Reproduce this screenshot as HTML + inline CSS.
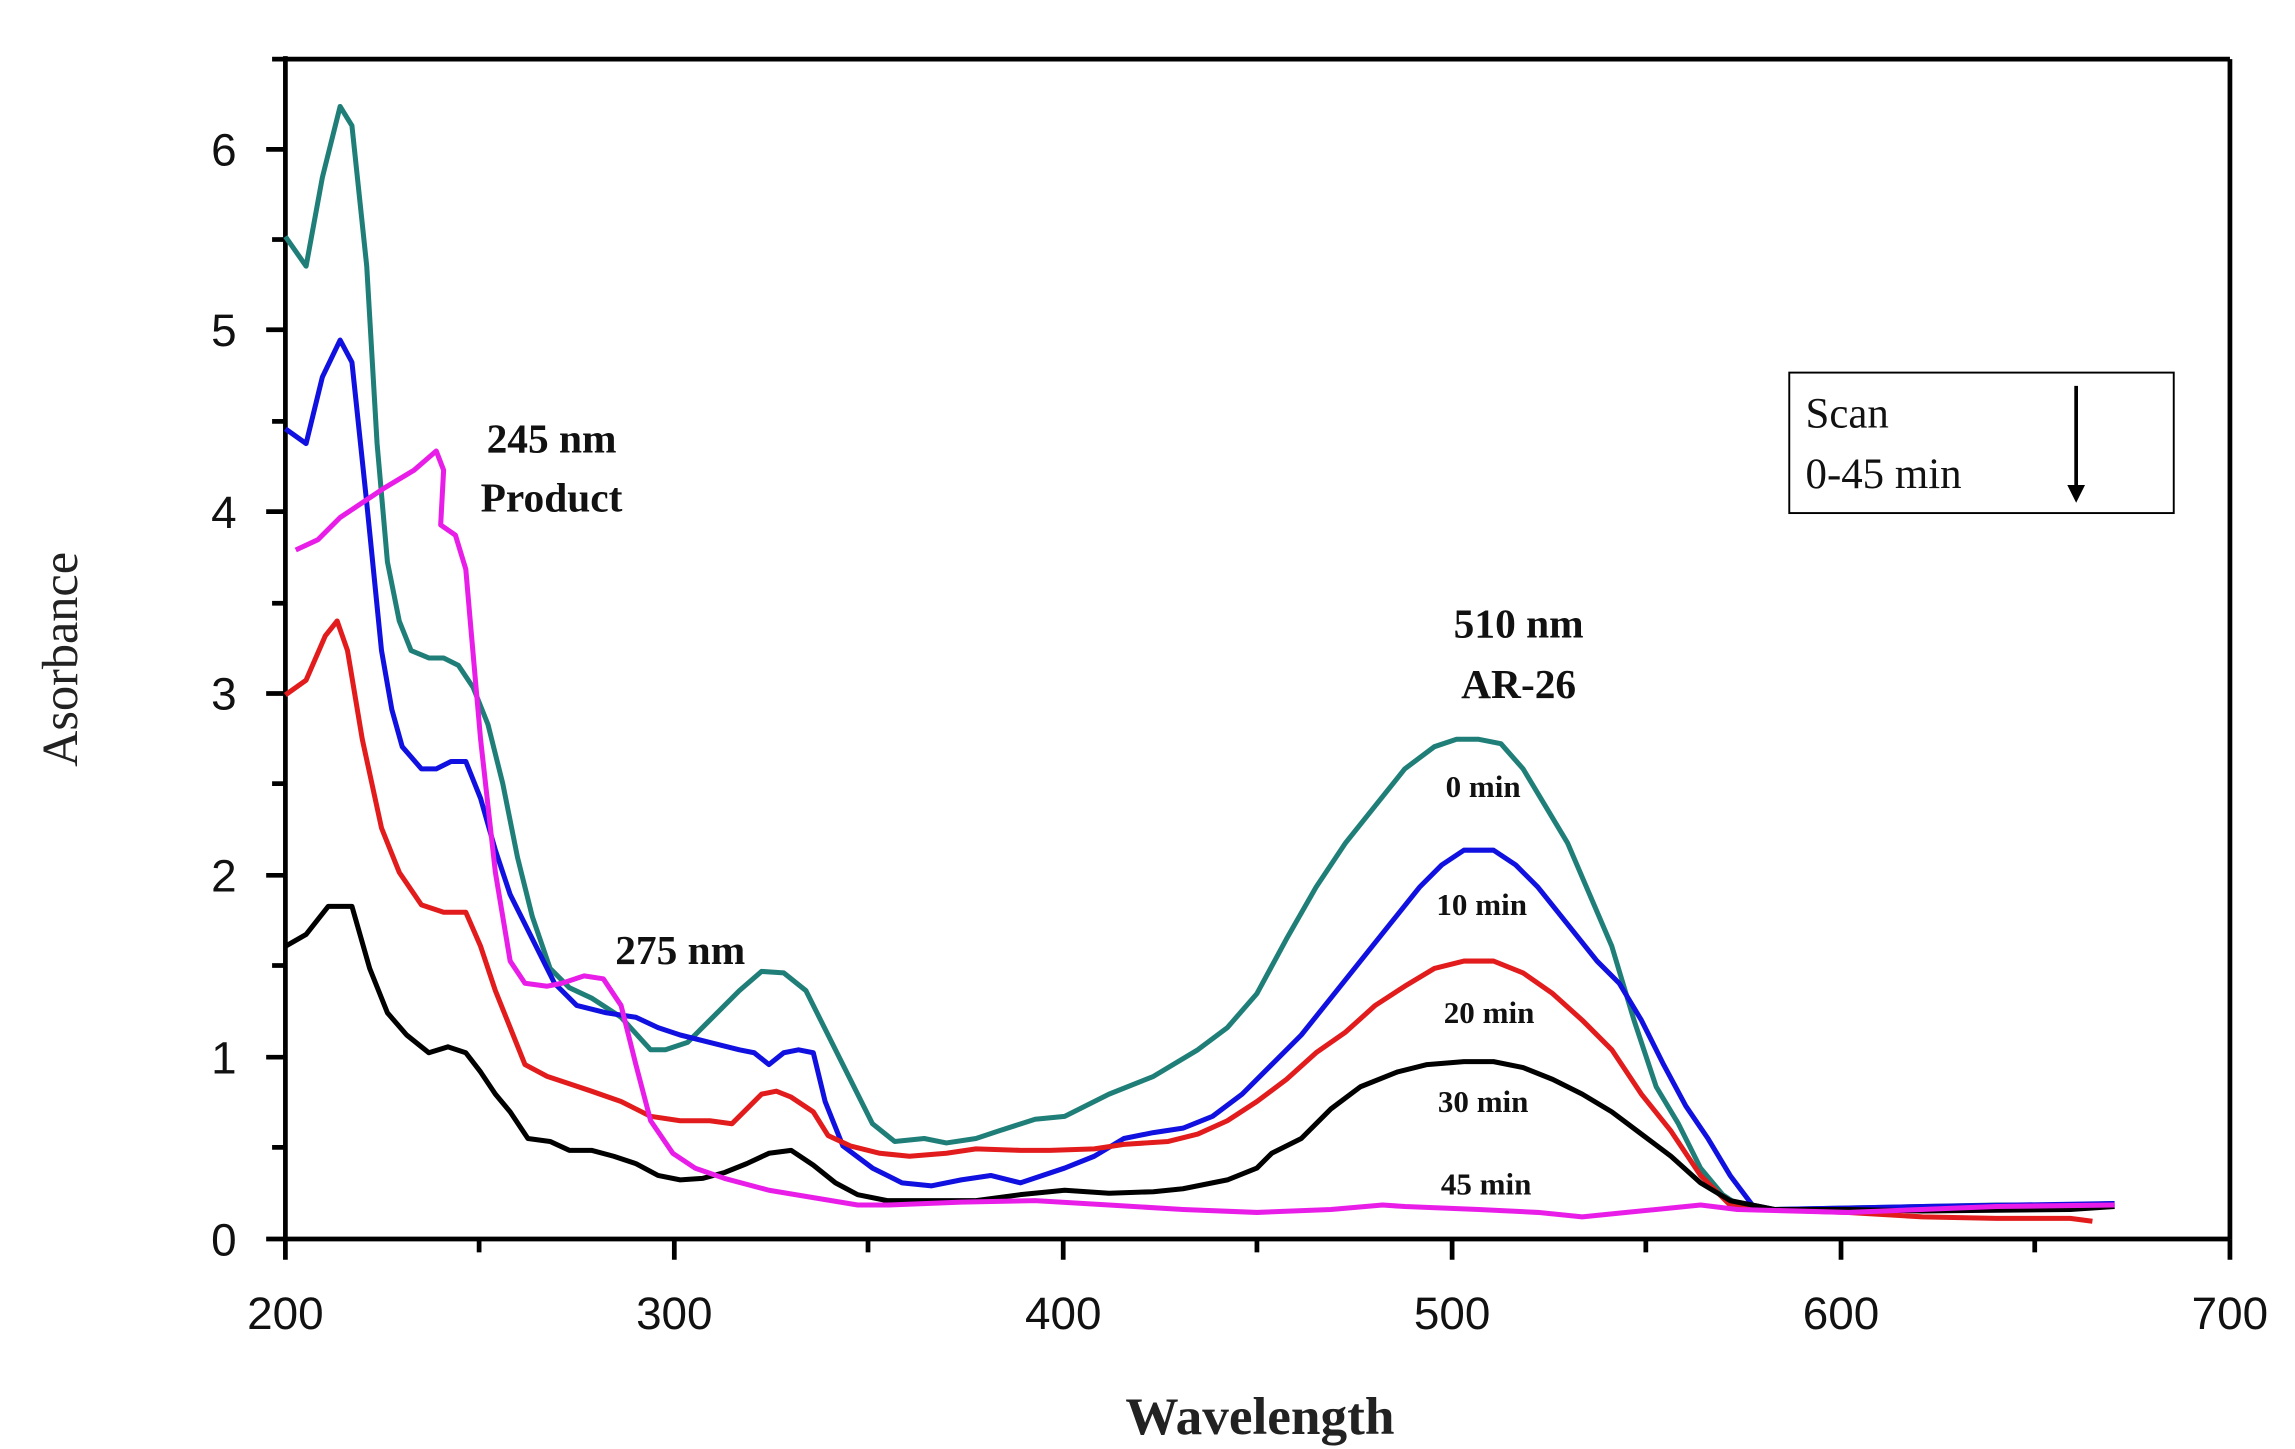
<!DOCTYPE html>
<html><head><meta charset="utf-8"><style>html,body{margin:0;padding:0;background:#fff}svg{display:block}</style></head>
<body>
<svg width="2295" height="1449" viewBox="0 0 1552 980" preserveAspectRatio="none" xmlns="http://www.w3.org/2000/svg">
<rect width="1552" height="980" fill="#fff"/>
<g stroke="#000" stroke-width="3.2" fill="none">
<line x1="193" y1="40" x2="1508" y2="40"/>
<line x1="1508" y1="40" x2="1508" y2="838"/>
<line x1="193" y1="38" x2="193" y2="852"/>
<line x1="180" y1="838" x2="1508" y2="838"/>
<!-- y ticks -->
<line x1="180" y1="101" x2="193" y2="101"/><line x1="180" y1="223" x2="193" y2="223"/><line x1="180" y1="346" x2="193" y2="346"/><line x1="180" y1="469" x2="193" y2="469"/><line x1="180" y1="592" x2="193" y2="592"/><line x1="180" y1="715" x2="193" y2="715"/>
<line x1="184" y1="162" x2="193" y2="162"/><line x1="184" y1="285" x2="193" y2="285"/><line x1="184" y1="408" x2="193" y2="408"/><line x1="184" y1="530" x2="193" y2="530"/><line x1="184" y1="653" x2="193" y2="653"/><line x1="184" y1="776" x2="193" y2="776"/><line x1="184" y1="40" x2="193" y2="40"/>
<!-- x ticks -->
<line x1="456" y1="838" x2="456" y2="852"/><line x1="719" y1="838" x2="719" y2="852"/><line x1="982" y1="838" x2="982" y2="852"/><line x1="1245" y1="838" x2="1245" y2="852"/><line x1="1508" y1="838" x2="1508" y2="852"/>
<line x1="324" y1="838" x2="324" y2="847"/><line x1="587" y1="838" x2="587" y2="847"/><line x1="850" y1="838" x2="850" y2="847"/><line x1="1113" y1="838" x2="1113" y2="847"/><line x1="1376" y1="838" x2="1376" y2="847"/>
</g>
<g font-family="'Liberation Sans',sans-serif" font-size="31" fill="#111" text-anchor="end">
<text x="160" y="112">6</text><text x="160" y="234">5</text><text x="160" y="357">4</text><text x="160" y="480">3</text><text x="160" y="603">2</text><text x="160" y="726">1</text><text x="160" y="849">0</text>
</g>
<g font-family="'Liberation Sans',sans-serif" font-size="31" fill="#111" text-anchor="middle">
<text x="193" y="899">200</text><text x="456" y="899">300</text><text x="719" y="899">400</text><text x="982" y="899">500</text><text x="1245" y="899">600</text><text x="1508" y="899">700</text>
</g>
<text x="852" y="970" font-family="'Liberation Serif',serif" font-weight="bold" font-size="36" fill="#222" text-anchor="middle">Wavelength</text>
<text transform="translate(52,446) rotate(-90)" font-family="'Liberation Serif',serif" font-size="34" fill="#222" text-anchor="middle">Asorbance</text>
<g fill="none" stroke-width="3.4" stroke-linejoin="round">
<polyline stroke="#1f7f78" points="193,160 207,180 218,120 230,72 238,85 248,180 255,300 262,380 270,420 278,440 290,445 300,445 310,450 320,465 330,490 340,530 350,580 360,620 372,655 385,668 400,675 420,688 440,710 450,710 465,705 480,690 500,670 515,657 530,658 545,670 560,700 575,730 590,760 605,772 625,770 640,773 660,770 675,765 700,757 720,755 750,740 780,728 810,710 830,695 850,672 870,635 890,600 910,570 930,545 950,520 970,505 985,500 1000,500 1015,503 1030,520 1045,545 1060,570 1075,605 1090,640 1105,690 1120,735 1135,760 1150,790 1165,808 1180,818 1200,818 1250,817 1300,816 1350,815 1400,815 1430,814"/>
<polyline stroke="#1010e0" points="193,290 207,300 218,255 230,230 238,245 248,340 258,440 265,480 272,505 285,520 295,520 305,515 315,515 325,540 335,575 345,605 360,635 375,665 390,680 410,685 430,688 445,695 460,700 480,705 500,710 510,712 520,720 530,712 540,710 550,712 558,745 570,775 590,790 610,800 630,802 650,798 670,795 690,800 720,790 740,782 760,770 780,766 800,763 820,755 840,740 860,720 880,700 900,675 920,650 940,625 960,600 975,585 990,575 1010,575 1025,585 1040,600 1060,625 1080,650 1095,665 1110,690 1125,720 1140,748 1155,770 1170,795 1185,815 1200,818 1300,816 1430,814"/>
<polyline stroke="#e21c1c" points="193,470 207,460 220,430 228,420 235,440 245,500 258,560 270,590 285,612 300,617 315,617 325,640 335,670 345,695 355,720 370,728 385,733 400,738 420,745 440,755 460,758 480,758 495,760 505,750 515,740 525,738 535,742 550,752 560,768 575,775 595,780 615,782 640,780 660,777 690,778 710,778 740,777 760,774 790,772 810,767 830,758 850,745 870,730 890,712 910,698 930,680 950,667 970,655 990,650 1010,650 1030,658 1050,672 1070,690 1090,710 1110,740 1130,765 1150,795 1170,815 1190,818 1250,820 1300,823 1350,824 1400,824 1415,826"/>
<polyline stroke="#000" points="193,640 207,632 222,613 238,613 250,655 262,685 275,700 290,712 303,708 315,712 325,725 335,740 345,752 357,770 372,772 385,778 400,778 415,782 430,787 445,795 460,798 475,797 490,793 505,787 520,780 535,778 550,788 565,800 580,808 600,812 630,812 660,812 690,808 720,805 750,807 780,806 800,804 830,798 850,790 860,780 880,770 900,750 920,735 945,725 965,720 990,718 1010,718 1030,722 1050,730 1070,740 1090,752 1110,767 1130,782 1150,800 1170,812 1200,818 1250,818 1300,819 1400,818 1430,816"/>
<polyline stroke="#e81ee8" points="200,372 215,365 230,350 260,330 280,318 295,305 300,318 298,355 308,362 315,385 318,420 325,500 335,590 345,650 355,665 370,667 380,665 395,660 408,662 420,680 430,720 440,758 455,780 470,790 490,797 520,805 550,810 580,815 600,815 650,813 700,812 750,815 800,818 850,820 900,818 935,815 950,816 1000,818 1040,820 1070,823 1100,820 1130,817 1150,815 1175,818 1250,820 1350,816 1430,815"/>
</g>
<g font-family="'Liberation Serif',serif" font-weight="bold" fill="#111" text-anchor="middle">
<text x="373" y="306" font-size="28">245 nm</text>
<text x="373" y="346" font-size="28">Product</text>
<text x="460" y="652" font-size="28">275 nm</text>
<text x="1027" y="431" font-size="28">510 nm</text>
<text x="1027" y="472" font-size="28">AR-26</text>
<text x="1003" y="539" font-size="21">0 min</text>
<text x="1002" y="619" font-size="21">10 min</text>
<text x="1007" y="692" font-size="21">20 min</text>
<text x="1003" y="752" font-size="21">30 min</text>
<text x="1005" y="808" font-size="21">45 min</text>
</g>
<rect x="1210" y="252" width="260" height="95" fill="#fff" stroke="#000" stroke-width="1.3"/>
<g font-family="'Liberation Serif',serif" font-size="29" fill="#111">
<text x="1221" y="289">Scan</text>
<text x="1221" y="330">0-45 min</text>
</g>
<line x1="1404" y1="261" x2="1404" y2="330" stroke="#000" stroke-width="2.5"/>
<polygon points="1398,328 1410,328 1404,340" fill="#000"/>
</svg>
</body></html>
